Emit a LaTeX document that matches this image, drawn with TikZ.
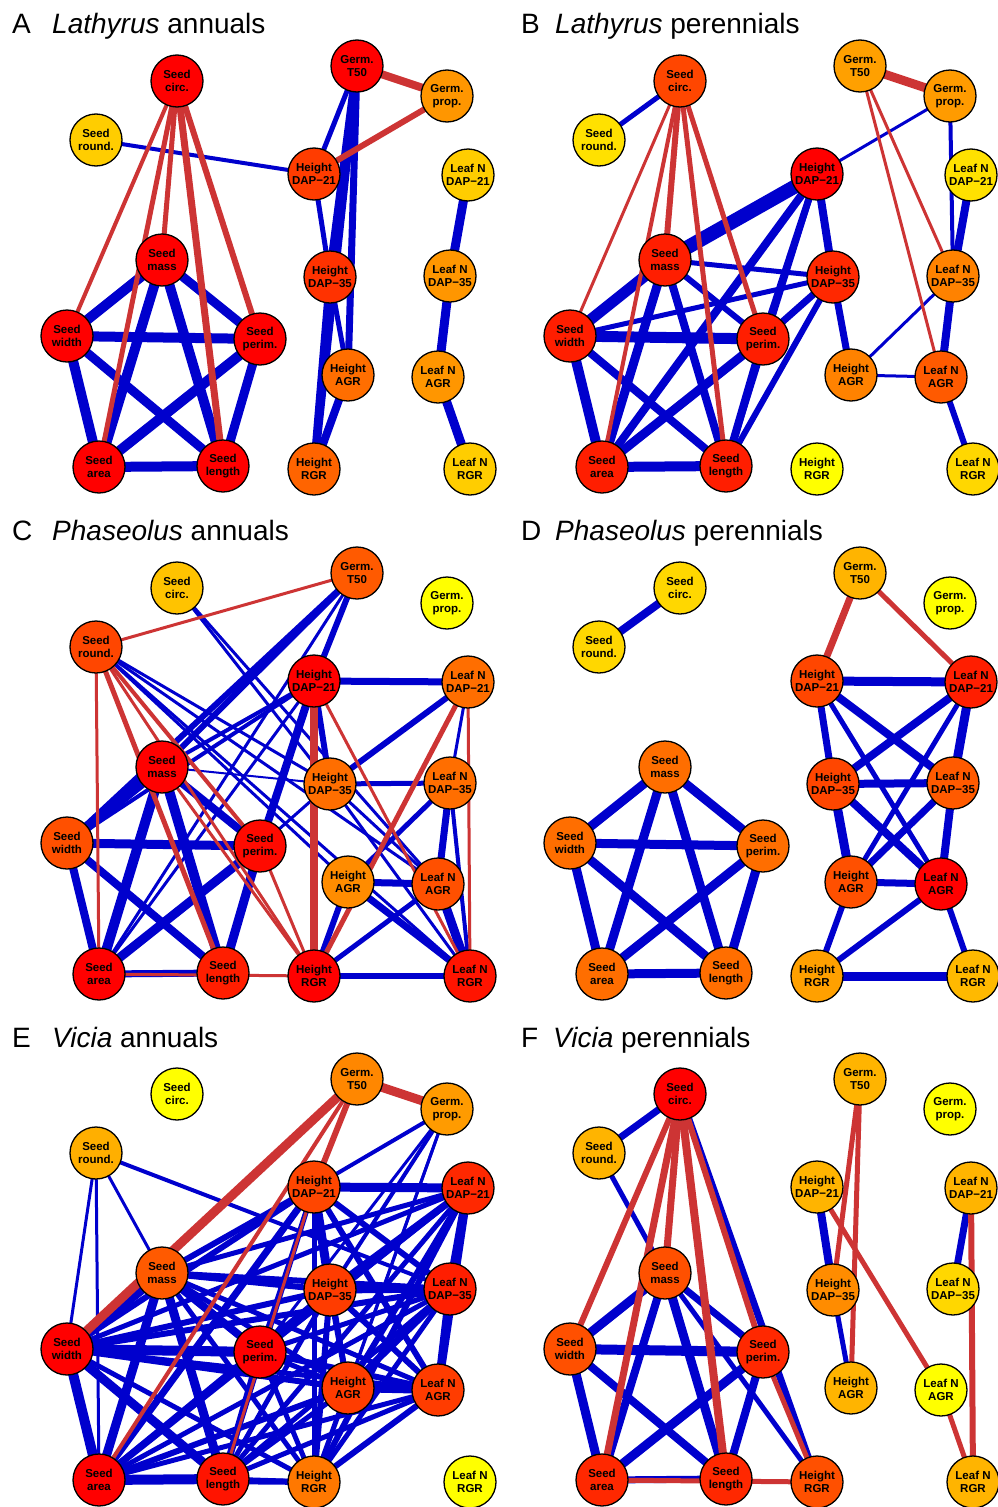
\documentclass[tikz,border=0pt]{standalone}
\usepackage{fontspec}
\setmainfont{Liberation Sans}
\usepackage{tikz}

\definecolor{edgeblue}{RGB}{0,0,205}
\definecolor{edgered}{RGB}{205,52,52}

\pgfdeclarelayer{bg}
\pgfdeclarelayer{edges}
\pgfsetlayers{bg,edges,main}

\tikzset{
  trait/.style={circle, draw=black, line width=1.3pt, minimum size=52pt, inner sep=0pt,
    align=center, font=\bfseries\fontsize{11.5}{13.3}\selectfont},
  posedge/.style={draw=edgeblue, line width=#1pt},
  negedge/.style={draw=edgered, line width=#1pt},
  paneltag/.style={anchor=base west, inner sep=0pt, font=\fontsize{28}{32}\selectfont},
}

% trait labels
\newcommand\labsc{Seed\\circ.}
\newcommand\labsr{Seed\\round.}
\newcommand\labgt{Germ.\\T50}
\newcommand\labgp{Germ.\\prop.}
\newcommand\labsm{Seed\\mass}
\newcommand\labsw{Seed\\width}
\newcommand\labsp{Seed\\perim.}
\newcommand\labsa{Seed\\area}
\newcommand\labsl{Seed\\length}
\newcommand\labhta{Height\\DAP−21}
\newcommand\labhtb{Height\\DAP−35}
\newcommand\labhtg{Height\\AGR}
\newcommand\labhtr{Height\\RGR}
\newcommand\lablfa{Leaf N\\DAP−21}
\newcommand\lablfb{Leaf N\\DAP−35}
\newcommand\lablfg{Leaf N\\AGR}
\newcommand\lablfr{Leaf N\\RGR}

% nodes of one panel: key/green part of the fill
\newcommand\traits[2]{%
  \foreach \k/\g in {#2} {
    \pgfmathsetmacro\redpart{100-\g/2.55}
    \node[trait, fill=red!\redpart!yellow] (#1-\k) at (#1-\k-at) {\csname lab\k\endcsname};
  }
}
% connectors of one panel
\newcommand\links[3]{%
  \foreach \na/\nb/\lw in {#3}
    \draw[#2=\lw] (#1-\na.center) -- (#1-\nb.center);
}

\begin{document}
\begin{tikzpicture}[x=1pt, y=-1pt]
  \begin{pgfonlayer}{bg}
    \fill[white] (0,0) rectangle (997,1507);
  \end{pgfonlayer}
  \useasboundingbox (0,0) rectangle (997,1507);

  % same layout in every panel
  \foreach \p/\dx/\dy in {A/0/0, B/503/0, C/0/507, D/503/507, E/0/1013, F/503/1013}
    \foreach \k/\x/\y in {sc/177/81, sr/96/140, gt/357/66, gp/447/96, hta/314/174, lfa/468/175,
        sm/162/260, htb/330/277, lfb/450/276, sw/67/336, sp/260/339, htg/348/375, lfg/438/377,
        sa/99/467, sl/223/466, htr/314/469, lfr/470/469}
      \coordinate (\p-\k-at) at (\x+\dx, \y+\dy);

  % titles
  \node[paneltag] (A-tag) at (12,33) {A};
  \node[paneltag] (A-title) at (52,33) {\textit{Lathyrus} annuals};
  \node[paneltag] (B-tag) at (521,33) {B};
  \node[paneltag] (B-title) at (555,33) {\textit{Lathyrus} perennials};
  \node[paneltag] (C-tag) at (12,540) {C};
  \node[paneltag] (C-title) at (52,540) {\textit{Phaseolus} annuals};
  \node[paneltag] (D-tag) at (521,540) {D};
  \node[paneltag] (D-title) at (555,540) {\textit{Phaseolus} perennials};
  \node[paneltag] (E-tag) at (12,1047) {E};
  \node[paneltag] (E-title) at (52,1047) {\textit{Vicia} annuals};
  \node[paneltag] (F-tag) at (521,1047) {F};
  \node[paneltag] (F-title) at (553,1047) {\textit{Vicia} perennials};

  % A
  \traits{A}{sc/0, sr/205, gt/0, gp/150, hta/60, lfa/205, sm/0, htb/50, lfb/150, sw/0, sp/0,
    htg/110, lfg/150, sa/0, sl/0, htr/100, lfr/205}
  % B
  \traits{B}{sc/70, sr/225, gt/160, gp/155, hta/0, lfa/225, sm/30, htb/40, lfb/130, sw/30, sp/30,
    htg/130, lfg/90, sa/30, sl/30, htr/255, lfr/215}
  % C
  \traits{C}{sc/195, sr/70, gt/90, gp/255, hta/0, lfa/110, sm/0, htb/110, lfb/110, sw/80, sp/10,
    htg/140, lfg/80, sa/0, sl/30, htr/0, lfr/20}
  % D
  \traits{D}{sc/215, sr/215, gt/180, gp/255, hta/70, lfa/30, sm/110, htb/70, lfb/90, sw/110, sp/110,
    htg/80, lfg/0, sa/110, sl/110, htr/160, lfr/185}
  % E
  \traits{E}{sc/255, sr/175, gt/135, gp/155, hta/70, lfa/40, sm/90, htb/60, lfb/30, sw/0, sp/0,
    htg/60, lfg/60, sa/0, sl/20, htr/120, lfr/255}
  % F
  \traits{F}{sc/0, sr/180, gt/180, gp/255, hta/180, lfa/180, sm/80, htb/140, lfb/215, sw/80, sp/40,
    htg/180, lfg/255, sa/40, sl/40, htr/80, lfr/180}

  \begin{pgfonlayer}{edges}
    % A
    \links{A}{posedge}{sr/hta/4, sm/sw/10, sm/sp/9, sm/sa/10, sm/sl/10, sw/sp/10, sw/sa/10, sw/sl/9,
      sp/sa/10, sp/sl/9, sa/sl/10, gt/hta/5, gt/htb/9, gt/htg/7, gt/htr/8, hta/htb/5, htb/htg/5,
      htb/htr/8, htg/htr/8, lfa/lfb/9, lfb/lfg/9, lfg/lfr/9}
    \links{A}{negedge}{sc/sw/4, sc/sm/5, sc/sa/5, sc/sl/7, sc/sp/6, gt/gp/8, gp/hta/6}
    % B
    \links{B}{posedge}{sc/sr/5, gp/hta/3, gp/lfb/4, lfa/lfb/8, lfb/lfg/8, lfg/lfr/6, lfb/htg/3,
      htg/lfg/3, hta/htb/8, htb/htg/7, hta/sm/14, hta/sa/8, hta/sp/7, hta/sl/6, sm/htb/5, sm/sw/11,
      sm/sa/9, sm/sl/8, sm/sp/6, sw/htb/5, sw/sp/11, sw/sa/10, sw/sl/8, sp/htb/7, sp/sa/9, sp/sl/8,
      sa/sl/10, htb/sl/6}
    \links{B}{negedge}{sc/sw/3, sc/sa/4, sc/sm/6, sc/sl/5, sc/sp/5, gt/gp/9, gt/lfb/3, gt/lfg/3}
    % C
    \links{C}{posedge}{sc/htb/3, sc/lfg/3, sr/htb/3, sr/htg/3, sr/lfg/3, sr/lfr/3, gt/hta/6, gt/sm/6,
      gt/sw/6, gt/sa/3, hta/lfa/7, hta/htb/6, hta/sp/8, hta/sm/4, hta/sw/4, hta/sa/3, lfa/htb/6,
      lfa/lfb/3, htb/lfb/5, htb/lfg/3, htb/lfr/3, htb/sp/3, sm/htb/2, lfb/htg/5, lfb/lfg/7, lfb/lfr/4,
      htg/lfg/7, htg/htr/6, htg/lfr/7, lfg/htr/5, lfg/lfr/9, htr/lfr/6, sm/sw/10, sm/sa/10, sm/sl/10,
      sm/sp/8, sw/sp/9, sw/sa/8, sw/sl/8, sp/sa/9, sp/sl/9, sa/sl/7}
    \links{C}{negedge}{sr/gt/3, sr/sa/3, sr/sl/5, sr/htr/3, sr/sp/4, hta/htr/8, hta/lfr/3, lfa/htr/5,
      lfa/lfr/3, sm/htr/3, sp/htr/3, sa/htr/3}
    % D
    \links{D}{posedge}{sc/sr/8, hta/lfa/9, hta/htb/7, hta/lfb/8, hta/lfg/5, lfa/htb/8, lfa/lfb/9,
      lfa/htg/5, htb/lfb/8, htb/htg/9, htb/lfg/8, lfb/htg/7, lfb/lfg/8, htg/lfg/7, htg/htr/6,
      lfg/htr/6, lfg/lfr/6, htr/lfr/9, sm/sw/9, sm/sp/9, sm/sa/9, sm/sl/9, sw/sp/9, sw/sa/9, sw/sl/9,
      sp/sa/9, sp/sl/9, sa/sl/9}
    \links{D}{negedge}{gt/hta/7, gt/lfa/5}
    % E
    \links{E}{posedge}{sr/sw/3, sr/sa/3, sr/sm/3, sr/lfb/4, gp/hta/4, gp/htb/4, gp/htg/3, gp/sp/3,
      gp/htr/3,
      sm/sw/10, sm/sa/9, sm/sl/9, sm/sp/8, sw/sp/10, sw/sa/10, sw/sl/9, sp/sa/7, sp/sl/7, sa/sl/10,
      hta/lfa/9, hta/htb/9, hta/htg/5, hta/lfg/6, hta/lfb/6, hta/htr/5, hta/sm/6, hta/sw/6, hta/sa/7,
      hta/sl/5, hta/sp/5,
      lfa/lfb/9, lfa/lfg/8, lfa/htb/7, lfa/htg/6, lfa/htr/6, lfa/sm/5, lfa/sw/5, lfa/sa/5, lfa/sl/5,
      lfa/sp/5,
      htb/lfb/7, htb/lfg/6, htb/htg/6, htb/htr/6, htb/sm/6, htb/sw/6, htb/sa/6, htb/sl/5, htb/sp/5,
      lfb/lfg/8, lfb/htg/7, lfb/htr/5, lfb/sm/6, lfb/sw/6, lfb/sa/5, lfb/sl/5, lfb/sp/5,
      htg/lfg/8, htg/htr/5, htg/sm/5, htg/sw/6, htg/sa/6, htg/sl/5, htg/sp/5,
      lfg/htr/6, lfg/sm/5, lfg/sw/5, lfg/sa/5, lfg/sl/5, lfg/sp/6,
      htr/sm/5, htr/sw/5, htr/sa/6, htr/sl/5, htr/sp/5}
    \links{E}{negedge}{gt/gp/9, gt/sw/9, gt/sa/4, gt/hta/6, hta/sl/3}
    % F
    \links{F}{posedge}{sc/sr/7, sc/htr/7, sr/sm/5, sm/sw/9, sm/sa/8, sm/sl/9, sm/sp/7, sm/htr/5,
      sw/sp/10, sw/sa/9, sw/sl/8, sp/sa/9, sp/sl/8, sa/sl/7, hta/htb/8, htb/htg/5, lfa/lfb/7}
    \links{F}{negedge}{sc/sw/6, sc/sa/7, sc/sm/7, sc/sl/8, sc/sp/6, sp/htr/5, sa/htr/5, gt/htb/5,
      gt/htg/5, hta/lfg/5, lfg/lfr/5, lfa/lfr/6}
  \end{pgfonlayer}
\end{tikzpicture}
\end{document}
